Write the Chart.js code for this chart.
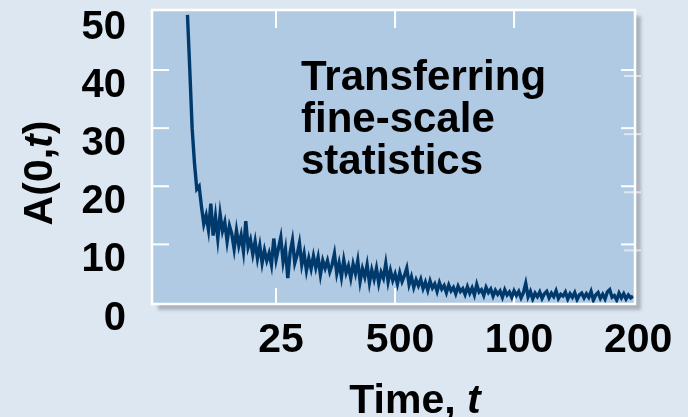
<!DOCTYPE html>
<html>
<head>
<meta charset="UTF-8">
<title>A(0,t) decay</title>
<script src="https://cdn.jsdelivr.net/npm/chart.js"></script>
<style>
  body { margin: 0; background: #dde7f2; }
  canvas { display: block; }
</style>
</head>
<body>
<canvas id="decayChart" width="688" height="417"></canvas>
<script>
// sampling of the curve: first time and step
const t0 = 64;
const dt = 4.9;

// A(0,t), one value per sample
const aValues = [
  49.5, 40, 30, 24, 19.5, 20, 16.5, 13.5, 15, 12.5,
  17, 11.5, 14.8, 11, 15.2, 12.3, 13.8, 10.5, 13.2, 11.8,
  9.2, 12.4, 9.8, 11.6, 8.8, 14, 9.5, 10.8, 8.3, 10.5,
  7.6, 9.8, 6.8, 9, 7.2, 8.5, 6.5, 11, 7.4, 9.3,
  11.2, 7, 9.2, 4.2, 8.6, 10.7, 6.8, 8.2, 10.2, 6.5,
  8.4, 5.5, 7.6, 5.8, 8, 6, 7.8, 4.8, 7.2, 5.9,
  7.2, 5.3, 6.5, 8.4, 5, 6.8, 4.4, 7.3, 5.1, 6.3,
  4.2, 6.6, 5, 7.2, 3.6, 5.8, 4.4, 6.5, 3.4, 5.6,
  4, 5.9, 3.3, 5.2, 4.2, 6.7, 3.6, 5.5, 3.8, 4.9,
  3.2, 5.1, 3.6, 4.6, 5.9, 3.1, 4.4, 2.6, 3.9, 2.9,
  4, 2.4, 3.5, 2.1, 3.7, 2.5, 3.2, 1.9, 3.4, 2.3,
  2.9, 1.7, 3, 2, 2.6, 1.5, 2.8, 1.9, 2.4, 1.4,
  2.7, 1.6, 2.5, 1.3, 3.1, 1.8, 2.2, 1.2, 2.6, 1.7,
  2.3, 1.1, 2.1, 1.4, 2, 0.9, 2.2, 1.3, 1.8, 0.9,
  2, 1.2, 1.9, 0.8, 1.7, 3.3, 1, 1.9, 0.6, 1.6,
  1, 1.8, 0.7, 1.5, 1.9, 0.8, 1.6, 1, 2, 0.7,
  1.4, 1.1, 1.8, 0.6, 1.5, 0.9, 1.7, 0.5, 1.3, 1.6,
  0.8, 1.5, 0.9, 1.9, 0.4, 1.3, 1.7, 0.7, 1.4, 0.6,
  1.8, 2.2, 0.9, 1.2, 0.4, 1.6, 0.8, 1.5, 0.6, 1.3,
  0.8, 1.1
];

// axis ticks (labels as printed on the figure)
const xTickValues = [250, 500, 750, 1000];
const xTickLabels = ['25', '500', '100', '200'];
const xMarkValues = [250, 500, 750];
const yTickValues = [0, 10, 20, 30, 40, 50];

const points = aValues.map((v, i) => ({ x: t0 + i * dt, y: v }));

const FONT = "'Liberation Sans', Arial, sans-serif";

// background, shadow and plot panel, white border and inner tick marks
const framePlugin = {
  id: 'frame',
  beforeDraw(chart) {
    const { ctx, chartArea: a } = chart;
    ctx.save();
    ctx.fillStyle = '#dde7f2';
    ctx.fillRect(0, 0, chart.width, chart.height);
    ctx.shadowColor = 'rgba(110,115,125,0.45)';
    ctx.shadowBlur = 3;
    ctx.shadowOffsetX = 6;
    ctx.shadowOffsetY = 6;
    ctx.fillStyle = '#b0cae4';
    ctx.fillRect(a.left, a.top, a.right - a.left, a.bottom - a.top);
    ctx.restore();
  },
  beforeDatasetsDraw(chart) {
    const { ctx, chartArea: a, scales } = chart;
    ctx.save();
    ctx.lineWidth = 2;
    // faint copies of the right ticks
    ctx.strokeStyle = 'rgba(235,240,245,0.75)';
    yTickValues.slice(1, -1).forEach(v => {
      const y = scales.y.getPixelForValue(v) + 6;
      ctx.beginPath(); ctx.moveTo(a.right - 11, y); ctx.lineTo(a.right + 6, y); ctx.stroke();
    });
    ctx.strokeStyle = '#ffffff';
    yTickValues.slice(1, -1).forEach(v => {
      const y = scales.y.getPixelForValue(v);
      ctx.beginPath(); ctx.moveTo(a.left, y); ctx.lineTo(a.left + 17, y); ctx.stroke();
      ctx.beginPath(); ctx.moveTo(a.right - 14, y); ctx.lineTo(a.right, y); ctx.stroke();
    });
    xMarkValues.forEach(v => {
      const x = scales.x.getPixelForValue(v);
      ctx.beginPath(); ctx.moveTo(x, a.top); ctx.lineTo(x, a.top + 18); ctx.stroke();
      ctx.beginPath(); ctx.moveTo(x, a.bottom - 16); ctx.lineTo(x, a.bottom); ctx.stroke();
    });
    ctx.restore();
  },
  afterDatasetsDraw(chart) {
    const { ctx, chartArea: a } = chart;
    ctx.save();
    ctx.strokeStyle = '#ffffff';
    ctx.lineWidth = 2.5;
    ctx.strokeRect(a.left, a.top, a.right - a.left, a.bottom - a.top);
    ctx.restore();
  }
};

// axis titles with italic t, and the note inside the panel
function drawMixed(ctx, parts, x, y) {
  const widths = parts.map(p => { ctx.font = p.font; return ctx.measureText(p.text).width; });
  let cx = x - widths.reduce((s, w) => s + w, 0) / 2;
  parts.forEach((p, i) => {
    ctx.font = p.font;
    ctx.fillText(p.text, cx, y);
    cx += widths[i];
  });
}

const textPlugin = {
  id: 'texts',
  afterDraw(chart) {
    const ctx = chart.ctx;
    const bold = 'bold 41px ' + FONT;
    const boldItalic = 'italic bold 41px ' + FONT;
    ctx.save();
    ctx.fillStyle = '#000000';
    ctx.textAlign = 'left';
    ctx.textBaseline = 'alphabetic';
    drawMixed(ctx, [{ text: 'Time, ', font: bold }, { text: 't', font: boldItalic }], 415, 413);

    ctx.save();
    ctx.translate(52, 173);
    ctx.rotate(-Math.PI / 2);
    drawMixed(ctx, [
      { text: 'A(0,', font: bold },
      { text: 't', font: boldItalic },
      { text: ')', font: bold }
    ], 0, 0);
    ctx.restore();

    ctx.font = 'bold 42px ' + FONT;
    ['Transferring', 'fine-scale', 'statistics'].forEach((line, i) => {
      ctx.fillText(line, 301, 90 + i * 42);
    });
    ctx.restore();
  }
};

const ctx = document.getElementById('decayChart');

new Chart(ctx, {
  type: 'line',
  data: {
    datasets: [{
      label: 'A(0,t)',
      data: points,
      borderColor: '#003a6c',
      borderWidth: 3.4,
      borderJoinStyle: 'miter',
      pointRadius: 0,
      tension: 0,
      fill: false
    }]
  },
  options: {
    responsive: false,
    animation: false,
    layout: { padding: { top: 10, right: 53, left: 0, bottom: 0 } },
    plugins: {
      legend: { display: false },
      tooltip: { enabled: false }
    },
    scales: {
      x: {
        type: 'linear',
        min: -10.5,
        max: 1004,
        border: { display: false },
        grid: { display: false, drawTicks: false },
        afterBuildTicks: s => { s.ticks = xTickValues.map(v => ({ value: v })); },
        afterFit: s => { s.height = 113; s.paddingLeft = 0; s.paddingRight = 0; },
        ticks: {
          maxRotation: 0,
          autoSkip: false,
          padding: 12,
          labelOffset: 5,
          color: '#000000',
          font: { family: FONT, size: 41, weight: 'bold' },
          callback: (v, i) => xTickLabels[i]
        }
      },
      y: {
        min: -0.26,
        max: 50.33,
        border: { display: false },
        grid: { display: false, drawTicks: false },
        afterBuildTicks: s => { s.ticks = yTickValues.map(v => ({ value: v })); },
        afterFit: s => { s.width = 152; s.paddingTop = 0; s.paddingBottom = 0; },
        ticks: {
          padding: 26,
          labelOffset: 16,
          color: '#000000',
          font: { family: FONT, size: 40, weight: 'bold' }
        }
      }
    }
  },
  plugins: [framePlugin, textPlugin]
});
</script>
</body>
</html>
